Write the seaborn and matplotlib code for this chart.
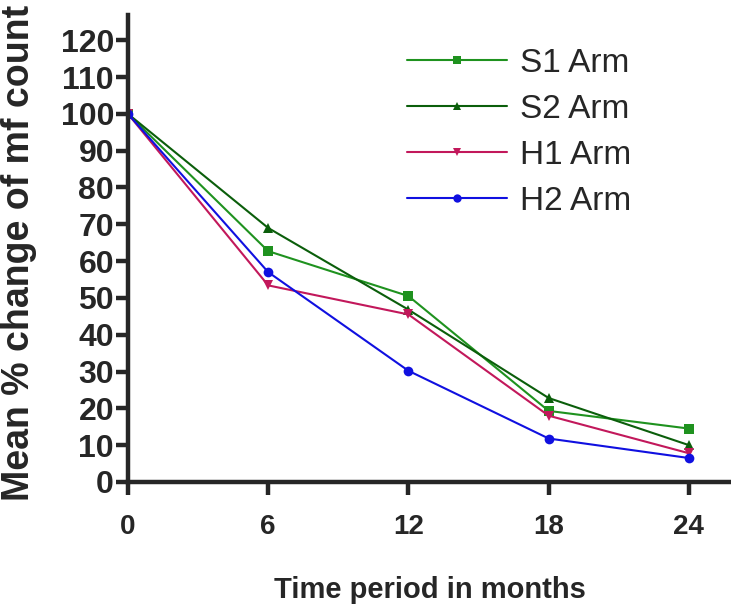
import pandas as pd
import matplotlib
matplotlib.use("Agg")
import matplotlib.pyplot as plt
import seaborn as sns

# ================= DATA =================
months = [0, 6, 12, 18, 24]
s1_arm = [100, 62.7, 50.5, 19.3, 14.5]
s2_arm = [100, 69.0, 46.8, 22.8, 10.0]
h1_arm = [100, 53.4, 45.5, 18.0, 7.8]
h2_arm = [100, 57.0, 30.2, 11.8, 6.5]

arm_names = ['S1 Arm', 'S2 Arm', 'H1 Arm', 'H2 Arm']
arm_values = [s1_arm, s2_arm, h1_arm, h2_arm]

frames = []
for name, vals in zip(arm_names, arm_values):
    frames.append(pd.DataFrame({'month': months, 'change': vals, 'arm': name}))
df = pd.concat(frames, ignore_index=True)

# ================= STYLE =================
sns.set_style("ticks")
plt.rcParams['font.family'] = ['Liberation Sans', 'DejaVu Sans']

colores = {'S1 Arm': '#1f921f', 'S2 Arm': '#0b5e0b', 'H1 Arm': '#c2185b', 'H2 Arm': '#1010e0'}
marcadores = {'S1 Arm': 's', 'S2 Arm': '^', 'H1 Arm': 'v', 'H2 Arm': 'o'}

fig = plt.figure(figsize=(7.31, 6.07), dpi=100)
ax = fig.add_axes([0.175, 0.206, 0.825, 0.769])

sns.lineplot(
    data=df, x='month', y='change', hue='arm', style='arm',
    palette=colores, markers=marcadores, dashes=False,
    linewidth=1.5, markersize=7, markeredgewidth=0, ax=ax
)

ax.set_xlim(0, 25.8)
ax.set_ylim(0, 126.8)
ax.set_xticks(months)
ax.set_yticks(range(0, 121, 10))

for side in ['top', 'right']:
    ax.spines[side].set_visible(False)
for side in ['left', 'bottom']:
    ax.spines[side].set_linewidth(3.2)

ax.tick_params(axis='both', length=9, width=3.2, direction='out')
ax.tick_params(axis='y', labelsize=23, pad=1)
ax.tick_params(axis='x', labelsize=20, pad=14)
for lbl in ax.get_xticklabels() + ax.get_yticklabels():
    lbl.set_fontweight('bold')

ax.set_xlabel('Time period in months', fontsize=21, fontweight='bold', labelpad=26)
ax.set_ylabel('Mean % change of mf count', fontsize=27, fontweight='bold', labelpad=2)
ax.yaxis.set_label_coords(-0.15, 0.49)

leg = ax.legend(
    loc='upper right', bbox_to_anchor=(0.885, 0.995), frameon=False,
    fontsize=24, handlelength=3.0, handletextpad=0.4, labelspacing=0.45
)
for h in leg.legend_handles:
    h.set_markersize(6)

plt.savefig('out.png', dpi=100)
